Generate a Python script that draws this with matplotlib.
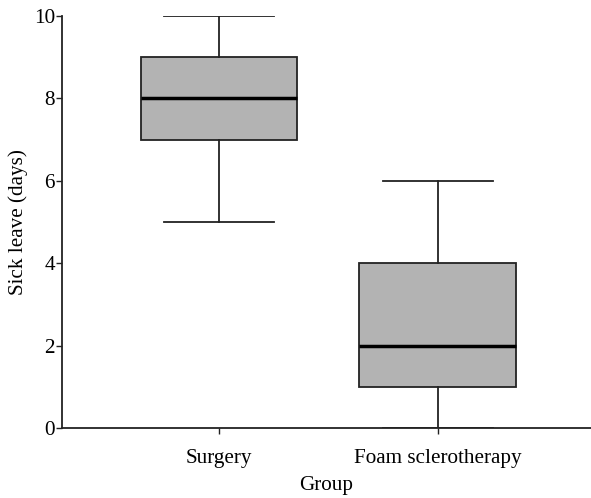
import matplotlib
matplotlib.use("Agg")
from matplotlib import pyplot as plt

# Données
groups = ['Surgery', 'Foam sclerotherapy']
whisker_low = [5, 0]
q1 = [7, 1]
median = [8, 2]
q3 = [9, 4]
whisker_high = [10, 6]

plt.rcParams['font.family'] = ['Liberation Serif', 'DejaVu Serif']

stats = []
for i, g in enumerate(groups):
    stats.append({'label': g, 'whislo': whisker_low[i], 'q1': q1[i],
                  'med': median[i], 'q3': q3[i], 'whishi': whisker_high[i]})

fig = plt.figure(figsize=(5.91, 4.98), dpi=100)
ax = fig.add_axes([0.105, 0.1406, 0.895, 0.8274])

ax.bxp(stats, positions=[1, 2], widths=0.717, capwidths=0.5,
       showfliers=False, patch_artist=True,
       boxprops=dict(facecolor='#b3b3b3', edgecolor='#222222', linewidth=1.3),
       medianprops=dict(color='black', linewidth=2.5),
       whiskerprops=dict(color='#222222', linewidth=1.3),
       capprops=dict(color='#222222', linewidth=1.3))

ax.set_xlim(0.283, 2.70)
ax.set_ylim(0, 10)
ax.set_yticks([0, 2, 4, 6, 8, 10])
ax.spines['top'].set_visible(False)
ax.spines['right'].set_visible(False)
for s in ['left', 'bottom']:
    ax.spines[s].set_linewidth(1.3)
    ax.spines[s].set_color('#222222')
ax.tick_params(axis='both', labelsize=15.2, width=1.0, length=4, color='#222222')
ax.tick_params(axis='x', pad=11)
ax.tick_params(axis='y', pad=1)
ax.set_xlabel('Group', fontsize=15.2, labelpad=6)
ax.set_ylabel('Sick leave (days)', fontsize=15.2, labelpad=4)

plt.savefig('out.png', dpi=100)
plt.close()
